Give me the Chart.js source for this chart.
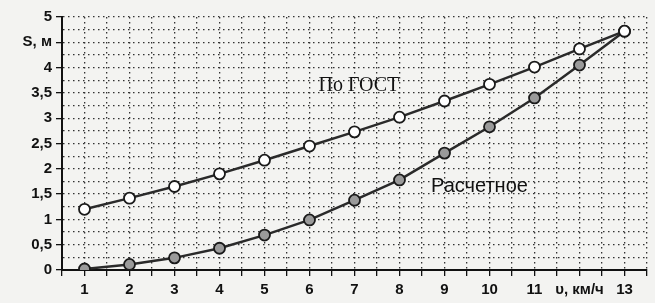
<!DOCTYPE html>
<html>
<head>
<meta charset="utf-8">
<script src="https://cdn.jsdelivr.net/npm/chart.js@4/dist/chart.umd.min.js"></script>
<style>
  html, body { margin: 0; padding: 0; background: #f3f3f1; }
  #wrap { width: 655px; height: 303px; position: relative; }
</style>
</head>
<body>
<div id="wrap"><canvas id="myChart"></canvas></div>
<script>
// speed, km/h
var speeds = [1, 2, 3, 4, 5, 6, 7, 8, 9, 10, 11, 12, 13];
// braking distance by GOST, m
var gostValues = [1.2, 1.42, 1.65, 1.9, 2.17, 2.45, 2.73, 3.02, 3.34, 3.67, 4.01, 4.37, 4.72];
// calculated braking distance, m
var calcValues = [0.02, 0.11, 0.24, 0.43, 0.69, 0.99, 1.38, 1.78, 2.31, 2.83, 3.4, 4.05, 4.72];
var seriesNames = ["По ГОСТ", "Расчетное"];
var xAxisName = "υ, км/ч";
var yAxisName = "S, м";

function toPoints(vals) {
  return speeds.map(function (s, i) { return { x: s, y: vals[i] }; });
}

// series captions written inside the plot
var captions = {
  id: "captions",
  afterDatasetsDraw: function (chart) {
    var ctx = chart.ctx;
    var xs = chart.scales.x, ys = chart.scales.y;
    ctx.save();
    ctx.fillStyle = "#111";
    ctx.textBaseline = "middle";
    ctx.font = "20px 'Liberation Serif'";
    ctx.fillText(seriesNames[0], xs.getPixelForValue(6.2), ys.getPixelForValue(3.65));
    ctx.font = "20px 'Liberation Sans'";
    ctx.fillText(seriesNames[1], xs.getPixelForValue(8.7), ys.getPixelForValue(1.65));
    ctx.restore();
  }
};

var ctx = document.getElementById("myChart").getContext("2d");
var myChart = new Chart(ctx, {
  type: "line",
  data: {
    datasets: [
      {
        label: seriesNames[0],
        data: toPoints(gostValues),
        borderColor: "#2a2a2a",
        borderWidth: 2.5,
        pointRadius: 5.5,
        pointBorderWidth: 1.8,
        pointBorderColor: "#1a1a1a",
        pointBackgroundColor: "#ffffff",
        tension: 0
      },
      {
        label: seriesNames[1],
        data: toPoints(calcValues),
        borderColor: "#2a2a2a",
        borderWidth: 2.5,
        pointRadius: 5.5,
        pointBorderWidth: 1.8,
        pointBorderColor: "#1a1a1a",
        pointBackgroundColor: "#9a9a9a",
        tension: 0
      }
    ]
  },
  options: {
    responsive: true,
    maintainAspectRatio: false,
    animation: false,
    layout: { padding: { top: 17, right: 8, left: 0, bottom: 0 } },
    plugins: {
      legend: { display: false },
      tooltip: { enabled: false }
    },
    scales: {
      x: {
        type: "linear",
        min: 0.5,
        max: 13.5,
        afterFit: function (scale) { scale.height = 33; },
        border: { display: true, color: "#111", width: 2, dash: [1.5, 3.5] },
        grid: {
          color: "#333",
          lineWidth: 1.3,
          tickLength: 6,
          tickBorderDash: [],
          tickColor: "#111",
          tickWidth: 1.3
        },
        ticks: {
          stepSize: 0.5,
          autoSkip: false,
          maxRotation: 0,
          padding: 5,
          color: "#111",
          font: { family: "'Liberation Sans'", size: 15, weight: "bold" },
          callback: function (value) {
            if (value === 12) return xAxisName;
            return Number.isInteger(value) ? String(value) : "";
          }
        }
      },
      y: {
        min: 0,
        max: 5,
        afterFit: function (scale) { scale.width = 62; },
        border: { display: true, color: "#111", width: 2, dash: [1.5, 3.5] },
        grid: {
          color: "#333",
          lineWidth: 1.3,
          tickLength: 6,
          tickBorderDash: [],
          tickWidth: 1.3,
          tickColor: function (c) {
            return c.tick && Math.abs(c.tick.value * 2 - Math.round(c.tick.value * 2)) < 1e-6 ? "#111" : "rgba(0,0,0,0)";
          }
        },
        ticks: {
          stepSize: 0.25,
          autoSkip: false,
          padding: 4,
          color: "#111",
          font: { family: "'Liberation Sans'", size: 15, weight: "bold" },
          callback: function (value) {
            if (value === 4.5) return yAxisName;
            if (Math.abs(value * 2 - Math.round(value * 2)) > 1e-6) return "";
            return String(value).replace(".", ",");
          }
        }
      }
    }
  },
  plugins: [captions]
});
</script>
</body>
</html>
